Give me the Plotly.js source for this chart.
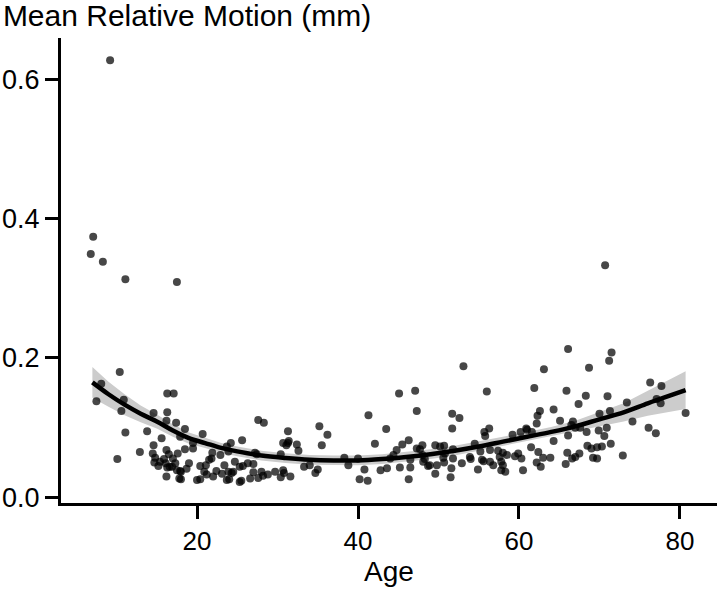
<!DOCTYPE html>
<html>
<head>
<meta charset="utf-8">
<script src="https://cdn.plot.ly/plotly-3.0.1.min.js"></script>
<style>
  body { margin: 0; background: #fff; }
  #graph { width: 720px; height: 590px; }
</style>
</head>
<body>
<div id="graph"></div>
<script>
// subject ages and their mean relative motion (mm)
var ages = [
  9.2, 7.1, 6.8, 8.3, 11.1, 17.5, 70.7,
  8.1, 10.4, 16.3, 17.1, 7.5, 10.9, 10.6, 14.6, 16.3, 16.2, 17.4, 18.5, 13.8, 11.1,
  15.6, 17.9, 20.7, 19.5, 14.6, 12.9, 10.1, 14.5, 14.8, 16.2, 16.5, 17.6, 18.5, 19.5,
  14.7, 15.4, 16.1, 16.6, 16.3, 17.3, 17.5, 18.0, 16.2, 17.8, 19.0, 20.4, 21.1, 20.9,
  21.2, 20.0, 20.4, 21.8, 21.9, 22.9, 23.4, 23.7, 22.0, 23.1, 23.9, 23.7, 18.0, 16.9,
  17.9, 21.5, 22.4, 15.9, 17.0, 18.7, 15.2,
  24.2, 25.6, 27.6, 28.3, 23.9, 24.3, 24.5, 24.7, 25.3, 25.7, 26.3, 27.0, 27.2, 27.4,
  24.0, 25.3, 25.5, 26.6, 27.0, 27.6, 28.0, 28.2, 28.8, 29.7, 30.4, 30.7, 30.8, 31.6,
  30.4, 30.7, 31.3, 31.4, 31.1, 31.3, 32.4, 32.6, 33.3, 34.0, 34.7, 35.0, 35.2, 36.2,
  35.5, 38.3, 38.8, 40.0, 40.2, 40.8, 41.2, 42.1, 41.3, 43.5, 42.8, 43.6, 44.4,
  53.1, 63.1, 45.1, 47.1, 56.0, 61.9, 47.3, 51.7, 52.6, 51.7, 62.6, 62.3, 62.2, 64.3,
  64.3, 55.7, 55.8, 56.3, 59.2, 60.2, 60.9, 61.0, 61.6, 45.5, 46.3, 44.8, 47.3, 47.7,
  48.0, 48.0, 48.3, 49.6, 50.2, 50.7, 50.8, 51.8, 51.8, 46.5, 46.5, 46.3, 45.2, 48.1,
  48.7, 48.9, 49.8, 49.6, 50.6, 50.7, 51.6, 51.5, 52.9, 53.9, 54.0, 54.5, 54.9, 55.2,
  55.4, 55.6, 56.4, 56.4, 56.8, 57.4, 57.6, 57.8, 58.0, 58.3, 57.8, 58.0, 58.5, 59.5,
  59.9, 60.3, 60.5, 61.5, 62.2, 62.4, 62.7, 63.0, 63.9, 44.0,
  66.1, 71.5, 71.2, 68.7, 65.9, 68.3, 71.0, 67.4, 76.3, 77.7, 77.1, 77.6, 73.4, 70.0,
  71.3, 80.7, 65.1, 66.7, 66.5, 67.0, 67.6, 66.1, 68.4, 69.9, 70.9, 70.6, 71.4, 74.1,
  76.1, 77.0, 68.5, 69.0, 69.7, 70.3, 69.2, 69.7, 72.9, 66.0, 66.6, 67.0, 67.5, 65.8
];
var motion = [
  0.627, 0.374, 0.349, 0.338, 0.313, 0.309, 0.333,
  0.163, 0.180, 0.149, 0.149, 0.138, 0.140, 0.124, 0.121, 0.122, 0.110, 0.107, 0.098, 0.095, 0.093,
  0.085, 0.087, 0.091, 0.078, 0.075, 0.065, 0.055, 0.063, 0.057, 0.068, 0.062, 0.063, 0.069, 0.070,
  0.050, 0.051, 0.049, 0.044, 0.043, 0.049, 0.039, 0.037, 0.030, 0.027, 0.049, 0.045, 0.046, 0.037,
  0.033, 0.025, 0.026, 0.056, 0.064, 0.061, 0.046, 0.073, 0.030, 0.034, 0.037, 0.025, 0.026, 0.044,
  0.038, 0.054, 0.038, 0.055, 0.056, 0.041, 0.045,
  0.078, 0.082, 0.111, 0.107, 0.066, 0.035, 0.037, 0.051, 0.044, 0.045, 0.049, 0.048, 0.064, 0.062,
  0.026, 0.022, 0.024, 0.027, 0.036, 0.028, 0.037, 0.031, 0.033, 0.037, 0.029, 0.039, 0.035, 0.030,
  0.062, 0.078, 0.078, 0.081, 0.075, 0.095, 0.076, 0.067, 0.044, 0.046, 0.035, 0.040, 0.102, 0.090,
  0.075, 0.057, 0.046, 0.056, 0.026, 0.040, 0.024, 0.077, 0.118, 0.098, 0.039, 0.042, 0.061,
  0.188, 0.184, 0.149, 0.153, 0.152, 0.157, 0.124, 0.120, 0.114, 0.099, 0.124, 0.117, 0.106, 0.126,
  0.081, 0.094, 0.088, 0.099, 0.090, 0.094, 0.099, 0.097, 0.094, 0.076, 0.082, 0.068, 0.070, 0.069,
  0.075, 0.061, 0.055, 0.075, 0.073, 0.074, 0.063, 0.069, 0.056, 0.054, 0.043, 0.026, 0.043, 0.051,
  0.045, 0.046, 0.046, 0.034, 0.057, 0.050, 0.042, 0.029, 0.049, 0.058, 0.055, 0.077, 0.040, 0.066,
  0.054, 0.052, 0.068, 0.051, 0.046, 0.067, 0.058, 0.039, 0.046, 0.037, 0.051, 0.064, 0.061, 0.059,
  0.063, 0.056, 0.039, 0.072, 0.050, 0.065, 0.044, 0.057, 0.057, 0.056,
  0.213, 0.208, 0.196, 0.186, 0.153, 0.146, 0.145, 0.134, 0.165, 0.160, 0.141, 0.135, 0.136, 0.120,
  0.124, 0.121, 0.110, 0.109, 0.104, 0.100, 0.100, 0.089, 0.094, 0.096, 0.100, 0.088, 0.077, 0.109,
  0.100, 0.092, 0.074, 0.070, 0.072, 0.073, 0.057, 0.056, 0.060, 0.064, 0.056, 0.058, 0.063, 0.048
];

// fitted trend and its confidence band
var fitAge = [7, 9, 11, 13, 15, 17, 19, 21, 23, 25, 28, 31, 34, 37, 40, 43, 46, 49, 52, 55, 58, 61, 64, 67, 70, 73, 76, 78, 80.7];
var fitMotion = [0.165, 0.148, 0.133, 0.120, 0.109, 0.096, 0.085, 0.078, 0.071, 0.066, 0.060, 0.0565, 0.054, 0.053, 0.053, 0.055, 0.058, 0.062, 0.067, 0.073, 0.080, 0.087, 0.094, 0.102, 0.112, 0.122, 0.135, 0.143, 0.154];
var bandLow = [0.143, 0.130, 0.118, 0.108, 0.099, 0.087, 0.077, 0.071, 0.064, 0.059, 0.053, 0.0495, 0.047, 0.046, 0.046, 0.048, 0.051, 0.055, 0.060, 0.066, 0.073, 0.080, 0.087, 0.094, 0.102, 0.109, 0.117, 0.121, 0.127];
var bandHigh = [0.187, 0.166, 0.148, 0.132, 0.119, 0.105, 0.093, 0.085, 0.078, 0.073, 0.067, 0.0635, 0.061, 0.060, 0.060, 0.062, 0.065, 0.069, 0.074, 0.080, 0.087, 0.094, 0.101, 0.110, 0.122, 0.135, 0.153, 0.165, 0.181];

var band = {
    x: fitAge.concat(fitAge.slice().reverse()),
    y: bandHigh.concat(bandLow.slice().reverse()),
    fill: 'toself',
    fillcolor: 'rgb(204,204,204)',
    line: {width: 0},
    mode: 'lines',
    hoverinfo: 'skip',
    showlegend: false
};

var pts = {
    x: ages,
    y: motion,
    mode: 'markers',
    type: 'scatter',
    marker: {color: 'rgba(0,0,0,0.72)', size: 8},
    showlegend: false
};

var fit = {
    x: fitAge,
    y: fitMotion,
    mode: 'lines',
    line: {color: 'black', width: 4.5, shape: 'spline'},
    showlegend: false
};

var frame = {
    width: 720,
    height: 590,
    paper_bgcolor: 'white',
    plot_bgcolor: 'white',
    font: {family: 'Liberation Sans, Arial, sans-serif', color: 'black', size: 26},
    margin: {l: 61, r: 3, t: 38, b: 87},
    title: {
        text: 'Mean Relative Motion (mm)',
        font: {size: 30, color: 'black'},
        xref: 'container', x: 0.004, xanchor: 'left',
        yref: 'container', y: 0.992, yanchor: 'top'
    },
    xaxis: {
        range: [3.1, 84.6],
        tickvals: [20, 40, 60, 80],
        ticks: 'outside', ticklen: 13, tickwidth: 2.5, tickcolor: 'black',
        showline: true, linewidth: 3, linecolor: 'black',
        showgrid: false, zeroline: false,
        tickfont: {size: 26},
        title: {text: 'Age', font: {size: 28}, standoff: 5}
    },
    yaxis: {
        range: [-0.008, 0.659],
        tickvals: [0, 0.2, 0.4, 0.6],
        tickformat: '.1f',
        ticks: 'outside', ticklen: 13, tickwidth: 2.5, tickcolor: 'black',
        showline: true, linewidth: 3, linecolor: 'black',
        showgrid: false, zeroline: false,
        tickfont: {size: 27}
    }
};

Plotly.newPlot('graph', [band, pts, fit], frame, {displayModeBar: false});
</script>
</body>
</html>
